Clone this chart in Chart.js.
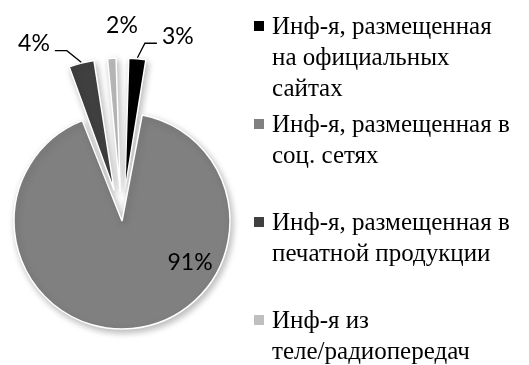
<!DOCTYPE html>
<html>
<head>
<meta charset="utf-8">
<script src="https://cdn.jsdelivr.net/npm/chart.js@4"></script>
<style>
  html, body { margin: 0; padding: 0; background: #fff; }
  #wrap { width: 529px; height: 365px; position: relative; }
</style>
</head>
<body>
<div id="wrap"><canvas id="infoChart"></canvas></div>
<script>
// Source shares, in legend order
const categories = [
  ["Инф-я, размещенная", "на официальных", "сайтах"],
  ["Инф-я, размещенная в", "соц. сетях"],
  ["Инф-я, размещенная в", "печатной продукции"],
  ["Инф-я из", "теле/радиопередач"]
];
const shares = [3, 91, 4, 2];
const sliceColors = ["#000000", "#808080", "#404040", "#bfbfbf"];

// how far each slice is pulled out of the pie (px)
const explode = [55, 0, 55, 55];
// label placement: angle nudge (deg), distance beyond the slice edge, leader line
const labelNudge = [11.4, -53, -12, 3.6];
const labelGap = [30, 0, 35, 32];
const labelInside = [false, true, false, false];
const labelLeader = [true, false, true, false];

const PIE_RADIUS = 108;
const labelFont = "23px Lato";
const legendFont = "25px 'Liberation Serif'";

// the serif face resolves lazily: paint it once on a scratch canvas first
(function warmFonts() {
  const scratch = document.createElement("canvas").getContext("2d");
  [legendFont, "25px 'Times New Roman'", "25px serif"].forEach((f) => {
    scratch.font = f;
    categories.flat().forEach((line) => {
      scratch.measureText(line);
      scratch.fillText(line, 0, 20);
    });
  });
})();

// ArcElement moves a slice by offset/4 * (2 - sin(circumference)); invert that
function offsetFor(px, circumference) {
  return px * 4 / (2 - Math.sin(Math.min(Math.PI, circumference)));
}
function shiftOf(offset, circumference) {
  const q = (offset || 0) / 4;
  return q + q * (1 - Math.sin(Math.min(Math.PI, circumference || 0)));
}

const pieShadow = {
  id: "pieShadow",
  beforeDatasetsDraw(chart) {
    const ctx = chart.ctx;
    ctx.save();
    ctx.shadowColor = "rgba(0,0,0,0.28)";
    ctx.shadowBlur = 7;
    ctx.shadowOffsetX = 2;
    ctx.shadowOffsetY = 3;
  },
  afterDatasetsDraw(chart) {
    chart.ctx.restore();
  }
};

const sliceLabels = {
  id: "sliceLabels",
  afterDatasetsDraw(chart) {
    const ctx = chart.ctx;
    const meta = chart.getDatasetMeta(0);
    ctx.save();
    ctx.font = labelFont;
    ctx.fillStyle = "#000";
    ctx.strokeStyle = "#000";
    ctx.lineWidth = 1.3;
    ctx.textAlign = "center";
    ctx.textBaseline = "middle";

    meta.data.forEach((arc, i) => {
      const p = arc.getProps(["x", "y", "startAngle", "endAngle", "outerRadius", "circumference"], true);
      const mid = (p.startAngle + p.endAngle) / 2;
      const shift = shiftOf(arc.options.offset, p.circumference);
      const text = shares[i] + "%";
      const a = mid + labelNudge[i] * Math.PI / 180;
      const r = labelInside[i] ? p.outerRadius * 0.74 : p.outerRadius + shift + labelGap[i];
      const lx = p.x + Math.cos(a) * r;
      const ly = p.y + Math.sin(a) * r;
      ctx.fillText(text, lx, ly);

      if (labelLeader[i]) {
        const w = ctx.measureText(text).width;
        const edge = p.outerRadius + shift + 1;
        const sx = p.x + Math.cos(mid) * edge;
        const sy = p.y + Math.sin(mid) * edge;
        const right = lx > p.x;
        const endX = right ? lx - w / 2 - 5 : lx + w / 2 + 5;
        const elbowX = right ? endX - 12 : endX + 12;
        const lineY = ly + 7;
        ctx.beginPath();
        ctx.moveTo(sx, sy);
        ctx.lineTo(elbowX, lineY);
        ctx.lineTo(endX, lineY);
        ctx.stroke();
      }
    });
    ctx.restore();
  }
};

// legend with wrapped serif lines, drawn to the right of the pie
const sideLegend = {
  id: "sideLegend",
  afterDraw(chart) {
    const ctx = chart.ctx;
    const boxX = chart.chartArea.right + 10;
    const textX = boxX + 18;
    const firstBaseline = 34;
    const slot = 98;
    const lineH = 31;
    const colors = chart.data.datasets[0].backgroundColor;
    ctx.save();
    ctx.font = legendFont;
    ctx.textAlign = "left";
    ctx.textBaseline = "alphabetic";
    categories.forEach((lines, i) => {
      const base = firstBaseline + i * slot;
      ctx.fillStyle = colors[i];
      ctx.fillRect(boxX, base - 13, 10, 10);
      ctx.fillStyle = "#000";
      lines.forEach((line, k) => ctx.fillText(line, textX, base + k * lineH));
    });
    ctx.restore();
  }
};

const ctx = document.getElementById("infoChart").getContext("2d");
const chart = new Chart(ctx, {
  type: "pie",
  data: {
    labels: categories.map((l) => l.join(" ")),
    datasets: [{
      data: shares,
      backgroundColor: sliceColors,
      borderColor: "#ffffff",
      borderWidth: 1.5,
      offset: (c) => {
        const circ = (shares[c.dataIndex] / 100) * Math.PI * 2;
        return explode[c.dataIndex] ? offsetFor(explode[c.dataIndex], circ) : 0;
      },
      hoverOffset: 0
    }]
  },
  options: {
    responsive: true,
    maintainAspectRatio: false,
    animation: false,
    radius: PIE_RADIUS,
    layout: { padding: { left: 0, right: 285, top: 77, bottom: 0 } },
    plugins: {
      legend: { display: false },
      tooltip: { enabled: false }
    }
  },
  plugins: [pieShadow, sliceLabels, sideLegend]
});

// repaint once the serif face has settled
requestAnimationFrame(() => chart.draw());
setTimeout(() => chart.draw(), 50);
</script>
</body>
</html>
